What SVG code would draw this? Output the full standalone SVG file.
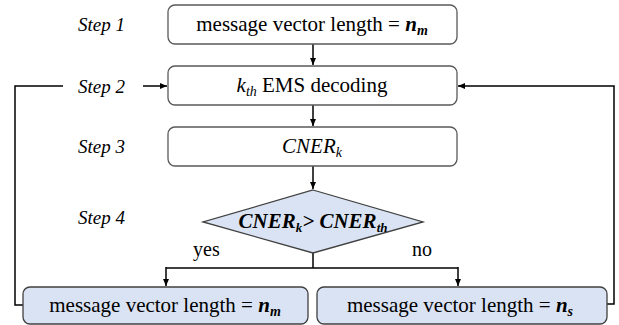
<svg xmlns="http://www.w3.org/2000/svg" width="619" height="325" viewBox="0 0 619 325">
<style>
.box{fill:#ffffff;stroke:#595959;stroke-width:1.3}
.blue{fill:#dae3f3;stroke:#404040;stroke-width:1.3}
text{font-family:'Liberation Serif',Tinos,'Noto Serif','Times New Roman','DejaVu Serif',serif}
.t{font-size:21px;fill:#000}
.step{font-size:19px;font-style:italic;fill:#000}
.lbl{font-size:20px;fill:#000}
.c{fill:none;stroke:#000;stroke-width:1.5}
</style>
<defs>
<marker id="ah" markerWidth="8" markerHeight="8" refX="7" refY="4" orient="auto" markerUnits="userSpaceOnUse">
<path d="M0,1 L7,4 L0,7 Z" fill="#000"/>
</marker>
</defs>
<g id="labels">
<text class="step" x="78" y="31">Step 1</text>
<text class="step" x="78" y="93">Step 2</text>
<text class="step" x="78" y="153">Step 3</text>
<text class="step" x="78" y="224">Step 4</text>
<text class="lbl" x="193" y="256">yes</text>
<text class="lbl" x="412" y="256">no</text>
</g>
<g id="connectors">
<line class="c" x1="313" y1="44" x2="313" y2="65" marker-end="url(#ah)"/>
<line class="c" x1="313" y1="105" x2="313" y2="126" marker-end="url(#ah)"/>
<line class="c" x1="313" y1="166" x2="313" y2="189" marker-end="url(#ah)"/>
<polyline class="c" points="313,252 313,268"/>
<polyline class="c" points="166,268 458,268"/>
<line class="c" x1="166" y1="267" x2="166" y2="286" marker-end="url(#ah)"/>
<line class="c" x1="458" y1="267" x2="458" y2="286" marker-end="url(#ah)"/>
<polyline class="c" points="23,305 15,305 15,86 63,86"/>
<line class="c" x1="143" y1="86" x2="167" y2="86" marker-end="url(#ah)"/>
<polyline class="c" points="607,304 614,304 614,86 458,86" marker-end="url(#ah)"/>
</g>
<g id="step1">
<rect class="box" x="168" y="5" width="289" height="39" rx="7"/>
<text class="t" x="312" y="31" text-anchor="middle">message vector length = <tspan font-weight="bold" font-style="italic">n<tspan font-size="14" dy="4">m</tspan></tspan></text>
</g>
<g id="step2">
<rect class="box" x="168" y="66" width="289" height="39" rx="7"/>
<text class="t" x="312" y="92" text-anchor="middle"><tspan font-style="italic">k<tspan font-size="14" dy="4">th</tspan></tspan><tspan dy="-4"> EMS decoding</tspan></text>
</g>
<g id="step3">
<rect class="box" x="168" y="127" width="289" height="39" rx="7"/>
<text class="t" x="312" y="153" text-anchor="middle" font-style="italic">CNER<tspan font-size="14" dy="4">k</tspan></text>
</g>
<g id="step4">
<polygon class="blue" points="313,190 423,222 313,253 203,222"/>
<text class="t" x="313" y="228" text-anchor="middle" font-size="18" font-weight="bold" font-style="italic">CNER<tspan font-size="13" dy="4">k</tspan><tspan dy="-4">&gt; CNER</tspan><tspan font-size="13" dy="4">th</tspan></text>
</g>
<g id="yes-box">
<rect class="blue" x="23" y="287" width="285" height="37" rx="7"/>
<text class="t" x="165" y="312" text-anchor="middle">message vector length = <tspan font-weight="bold" font-style="italic">n<tspan font-size="14" dy="4">m</tspan></tspan></text>
</g>
<g id="no-box">
<rect class="blue" x="317" y="287" width="290" height="37" rx="7"/>
<text class="t" x="460" y="312" text-anchor="middle">message vector length = <tspan font-weight="bold" font-style="italic">n<tspan font-size="14" dy="4">s</tspan></tspan></text>
</g>
</svg>
